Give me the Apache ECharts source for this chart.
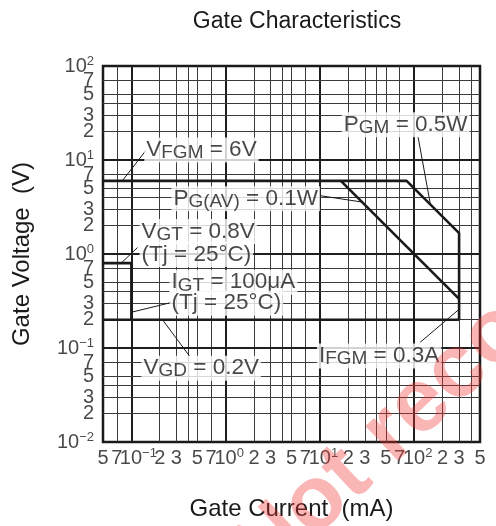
<!DOCTYPE html>
<html>
<head>
<meta charset="utf-8">
<script src="https://cdn.jsdelivr.net/npm/echarts@6/dist/echarts.min.js"></script>
<style>
  html, body { margin: 0; padding: 0; background: #fff; }
  #main { width: 496px; height: 526px; }
</style>
</head>
<body>
<div id="main"></div>
<script>
// gate current in mA, gate voltage in V
const xMajor = [0.1, 1, 10, 100];
const xMinor = [0.07, 0.2, 0.3, 0.4, 0.5, 0.7, 2, 3, 4, 5, 7, 20, 30, 40, 50, 70, 200, 300, 400];
const yMajor = [0.1, 1, 10];
const yMinor = [0.02, 0.03, 0.04, 0.05, 0.07, 0.2, 0.3, 0.4, 0.5, 0.7, 2, 3, 4, 5, 7, 20, 30, 40, 50, 70];

const xTickVals = [0.05, 0.07, 0.1, 0.2, 0.3, 0.5, 0.7, 1, 2, 3, 5, 7, 10, 20, 30, 50, 70, 100, 200, 300, 500];
const xTickText = ['5', '7', '10^−1', '2', '3', '5', '7', '10^0', '2', '3', '5', '7', '10^1', '2', '3', '5', '7', '10^2', '2', '3', '5'];
const yTickVals = [0.01, 0.02, 0.03, 0.05, 0.07, 0.1, 0.2, 0.3, 0.5, 0.7, 1, 2, 3, 5, 7, 10, 20, 30, 50, 70, 100];
const yTickText = ['10^−2', '2', '3', '5', '7', '10^−1', '2', '3', '5', '7', '10^0', '2', '3', '5', '7', '10^1', '2', '3', '5', '7', '10^2'];

// rating boundaries
const peakLimit = [[0.05, 6], [83.3, 6], [300, 1.667], [300, 0.2]];   // VFGM, PGM, IFGM
const avgPower = [[16.7, 6], [300, 0.333]];                            // PG(AV)
const vgdLine = [[0.05, 0.2], [300, 0.2]];                             // VGD
const vgtBox = [[0.05, 0.8], [0.1, 0.8], [0.1, 0.2]];                  // VGT / IGT

// annotation text: [main, subscript, main]
const noteText = [
  ['V', 'FGM', ' = 6V'],
  ['P', 'G(AV)', ' = 0.1W'],
  ['P', 'GM', ' = 0.5W'],
  ['V', 'GT', ' = 0.8V'],
  ['(Tj = 25°C)', '', ''],
  ['I', 'GT', ' = 100μA'],
  ['(Tj = 25°C)', '', ''],
  ['V', 'GD', ' = 0.2V'],
  ['I', 'FGM', ' = 0.3A']
];
const noteAt = [[0.137, 12.8], [0.266, 3.88], [17.1, 23.7], [0.122, 1.73], [0.122, 0.99],
                [0.254, 0.5], [0.254, 0.3], [0.128, 0.061], [9.3, 0.082]];
const leaders = [
  [[0.144, 12.8], [0.08, 6]],
  [[10, 4.18], [28, 3.57]],
  [[110, 17.7], [149, 3.35]],
  [[0.116, 1.17], [0.078, 0.8]],
  [[0.266, 0.305], [0.1, 0.24]],
  [[0.414, 0.082], [0.214, 0.2]],
  [[116, 0.115], [300, 0.258]]
];

const FONT = '"Liberation Sans", Arial, sans-serif';
const INK = '#1a1a1a';

function tickFmt(t) {
  const i = t.indexOf('^');
  return i < 0 ? '{b|' + t + '}' : '{b|' + t.slice(0, i) + '}{s|' + t.slice(i + 1) + '}';
}
function supShift(t) {
  const i = t.indexOf('^');
  return i < 0 ? 0 : (t.length - i - 1) * 3.5;
}
function noteFmt(p) {
  let s = '{m|' + p[0] + '}';
  if (p[1]) s += '{s|' + p[1] + '}';
  if (p[2]) s += '{m|' + p[2] + '}';
  return s;
}

const tickRich = {
  b: { fontSize: 20, lineHeight: 22, color: INK, fontFamily: FONT },
  s: { fontSize: 13, lineHeight: 13, verticalAlign: 'top', color: INK, fontFamily: FONT }
};
const noteRich = {
  m: { fontSize: 22.5, lineHeight: 25, color: INK, fontFamily: FONT },
  s: { fontSize: 19, lineHeight: 17, verticalAlign: 'bottom', color: INK, fontFamily: FONT }
};

const majorStyle = { width: 2, color: '#1e1e1e', type: 'solid' };
const minorStyle = { width: 1, color: '#3a3a3a', type: 'solid' };
const gridLines = []
  .concat(xMajor.map(v => ({ xAxis: v, lineStyle: majorStyle })))
  .concat(xMinor.map(v => ({ xAxis: v, lineStyle: minorStyle })))
  .concat(yMajor.map(v => ({ yAxis: v, lineStyle: majorStyle })))
  .concat(yMinor.map(v => ({ yAxis: v, lineStyle: minorStyle })));

const curveStyle = { color: INK, width: 2.6 };
function curve(data) {
  return { type: 'line', data: data, symbol: 'none', lineStyle: curveStyle, z: 3, silent: true, animation: false };
}

const chart = echarts.init(document.getElementById('main'));
chart.setOption({
  animation: false,
  title: {
    text: 'Gate Characteristics',
    left: 292, top: 5, textAlign: 'center',
    textStyle: { fontSize: 23, fontWeight: 'normal', color: INK, fontFamily: FONT }
  },
  grid: { left: 103, right: 16, top: 66, bottom: 83, show: true, borderColor: INK, borderWidth: 2.5, backgroundColor: '#fff' },
  xAxis: {
    type: 'log', logBase: 10, min: 0.05, max: 500,
    name: 'Gate Current  (mA)', nameLocation: 'middle', nameGap: 55,
    nameTextStyle: { fontSize: 24, color: INK, fontFamily: FONT },
    axisLine: { show: false }, axisTick: { show: false }, axisLabel: { show: false }, splitLine: { show: false }
  },
  yAxis: {
    type: 'log', logBase: 10, min: 0.01, max: 100,
    name: 'Gate Voltage  (V)', nameLocation: 'middle', nameGap: 69,
    nameTextStyle: { fontSize: 24, color: INK, fontFamily: FONT },
    axisLine: { show: false }, axisTick: { show: false }, axisLabel: { show: false }, splitLine: { show: false }
  },
  graphic: [{
    type: 'text', x: 279, y: 599, rotation: 0.75, z: 100, silent: true,
    style: { text: 'Not recommended', font: 'bold 90px "Liberation Sans", Arial, sans-serif', fill: 'rgba(240,50,50,0.36)', textAlign: 'left', textVerticalAlign: 'bottom' }
  }],
  series: [
    {
      type: 'line', data: [[0.05, 0.01]], symbol: 'none', silent: true, z: 1,
      markLine: { silent: true, symbol: 'none', z: 1, label: { show: false }, animation: false, data: gridLines }
    },
    curve(peakLimit),
    curve(avgPower),
    curve(vgdLine),
    curve(vgtBox),
    {
      type: 'line', data: [[0.05, 0.01]], symbol: 'none', silent: true, z: 4,
      markLine: {
        silent: true, z: 4, symbol: ['none', 'arrow'], symbolSize: [0, 7], animation: false,
        label: { show: false },
        lineStyle: { color: INK, width: 1, type: 'solid' },
        data: leaders.map(l => [{ coord: l[0] }, { coord: l[1] }])
      }
    },
    {
      type: 'scatter', clip: false, silent: true, symbolSize: 0, z: 6,
      data: noteAt.map((p, i) => ({ value: p, label: { formatter: noteFmt(noteText[i]) } })),
      label: { show: true, position: 'right', distance: 0, backgroundColor: '#fff', padding: [0, 2], rich: noteRich }
    },
    {
      type: 'scatter', clip: false, silent: true, symbolSize: 0, z: 6,
      data: xTickVals.map((v, i) => ({ value: [v, 0.01], label: { formatter: tickFmt(xTickText[i]), offset: [supShift(xTickText[i]), 0] } })),
      label: { show: true, position: 'bottom', distance: 5, rich: tickRich }
    },
    {
      type: 'scatter', clip: false, silent: true, symbolSize: 0, z: 6,
      data: yTickVals.map((v, i) => ({ value: [0.05, v], label: { formatter: tickFmt(yTickText[i]) } })),
      label: { show: true, position: 'left', distance: 9, rich: tickRich }
    }
  ]
});
</script>
</body>
</html>
